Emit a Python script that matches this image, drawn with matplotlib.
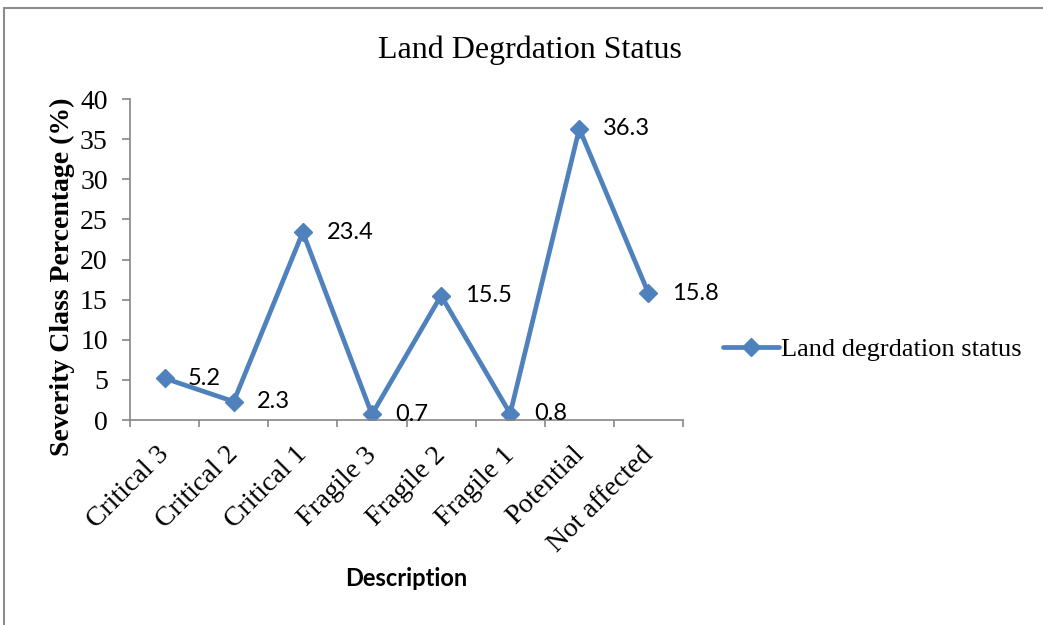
import matplotlib
matplotlib.use("Agg")
import matplotlib.pyplot as plt
from matplotlib.patches import Rectangle
from matplotlib.transforms import ScaledTranslation

categories = ["Critical 3", "Critical 2", "Critical 1", "Fragile 3",
              "Fragile 2", "Fragile 1", "Potential", "Not affected"]
values = [5.2, 2.3, 23.4, 0.7, 15.5, 0.8, 36.3, 15.8]
y_ticks = [0, 5, 10, 15, 20, 25, 30, 35, 40]

W, H = 1043, 625
fig = plt.figure(figsize=(W / 100, H / 100), dpi=100)

serif = "Liberation Serif"
sans = "Lato"
blue = "#4F81BD"
grey = "#868686"

# outer chart border (top and left edges visible)
fig.patches.append(Rectangle((4 / W, -0.1), 1.2, 1 - 8 / H + 0.1,
                             transform=fig.transFigure, fill=False,
                             edgecolor="#8c8c8c", linewidth=1.5))

ax = fig.add_axes([130 / W, 1 - 420 / H, 553 / W, 321 / H])
x = list(range(len(categories)))
ax.plot(x, values, color=blue, linewidth=3.4, marker="D", markersize=9.5,
        label="Land degrdation status", solid_capstyle="round")

for xi, v in zip(x, values):
    ax.annotate(f"{v}", (xi, v), xytext=(17, 0), textcoords="offset points",
                ha="left", va="center", fontsize=17, family=sans)

ax.set_xlim(-0.5, len(categories) - 0.5)
ax.set_ylim(0, 40)
ax.set_yticks(y_ticks)
ax.set_yticklabels([str(t) for t in y_ticks], family=serif, fontsize=20)

ax.set_xticks(x)
ax.set_xticklabels(categories, rotation=45, ha="right", rotation_mode="anchor",
                   family=serif, fontsize=20)
ax.tick_params(axis="x", which="major", length=0, pad=16)
shift = ScaledTranslation(-8 / 100, 0, fig.dpi_scale_trans)
for lbl in ax.get_xticklabels():
    lbl.set_transform(lbl.get_transform() + shift)
ax.set_xticks([i - 0.5 for i in range(len(categories) + 1)], minor=True)
ax.tick_params(axis="x", which="minor", length=5, color=grey, width=1.2)
ax.tick_params(axis="y", length=6, color=grey, width=1.2, pad=10)

for side in ("top", "right"):
    ax.spines[side].set_visible(False)
for side in ("left", "bottom"):
    ax.spines[side].set_color(grey)
    ax.spines[side].set_linewidth(1.2)

fig.text(62 / W, 1 - 277 / H, "Severity Class Percentage (%)", family=serif,
         fontweight="bold", fontsize=20, rotation=90, ha="center", va="center")
fig.text(406 / W, 1 - 578 / H, "Description", family=sans, fontweight="bold",
         fontsize=17, ha="center", va="center")
fig.text(530 / W, 1 - 50 / H, "Land Degrdation Status", family=serif,
         fontsize=23, ha="center", va="center")

leg = fig.legend(loc="center left", bbox_to_anchor=(710 / W, 1 - 349 / H),
                 frameon=False, prop={"family": serif, "size": 19},
                 handlelength=2.1, handletextpad=0.1, borderpad=0)

fig.savefig("out.png", dpi=100)
